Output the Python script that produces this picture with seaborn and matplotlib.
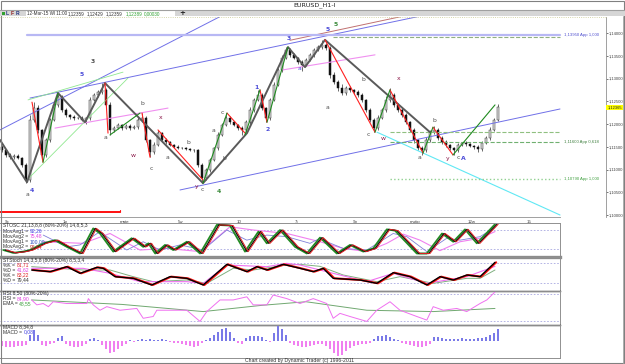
import matplotlib
matplotlib.use("Agg")
import matplotlib.pyplot as plt
import matplotlib.transforms as mtransforms
import numpy as np
import pandas as pd
import seaborn as sns

sns.set_style("white")
plt.rcParams['font.family'] = ['DejaVu Sans']
plt.rcParams['axes.linewidth'] = 0.6
NARROW = ['Liberation Sans Narrow', 'Liberation Sans', 'DejaVu Sans']

# ---------------- data ----------------
title = "EURUSD_H1-I"
first_open = 1.1150
closes = [
    1.1143, 1.1132, 1.1127, 1.1130, 1.1125, 1.1110, 1.1077, 1.1209, 1.1235, 1.1187,
    1.1132, 1.1165, 1.1209, 1.1242, 1.1259, 1.1231, 1.1220, 1.1215, 1.1213, 1.1213,
    1.1209, 1.1213, 1.1253, 1.1264, 1.1270, 1.1275, 1.1242, 1.1187, 1.1191, 1.1198,
    1.1191, 1.1196, 1.1191, 1.1193, 1.1209, 1.1213, 1.1165, 1.1139, 1.1154, 1.1180,
    1.1165, 1.1160, 1.1154, 1.1150, 1.1147, 1.1147, 1.1145, 1.1143, 1.1143, 1.1110,
    1.1081, 1.1099, 1.1121, 1.1147, 1.1176, 1.1198, 1.1213, 1.1204, 1.1198, 1.1191,
    1.1187, 1.1204, 1.1231, 1.1253, 1.1264, 1.1235, 1.1213, 1.1253, 1.1286, 1.1319,
    1.1345, 1.1363, 1.1352, 1.1345, 1.1336, 1.1330, 1.1341, 1.1352, 1.1363, 1.1369,
    1.1374, 1.1367, 1.1308, 1.1292, 1.1279, 1.1268, 1.1279, 1.1275, 1.1270, 1.1264,
    1.1253, 1.1231, 1.1209, 1.1191, 1.1213, 1.1231, 1.1253, 1.1264, 1.1242, 1.1231,
    1.1220, 1.1204, 1.1187, 1.1165, 1.1147, 1.1143, 1.1165, 1.1182, 1.1187, 1.1169,
    1.1160, 1.1154, 1.1147, 1.1143, 1.1154, 1.1158, 1.1156, 1.1152, 1.1150, 1.1145,
    1.1158, 1.1169, 1.1187, 1.1209, 1.1237]
wick_up_pips = [
    4, 3, 5, 3, 4, 3, 5, 10, 13, 6,   3, 5, 4, 6, 9, 4, 5, 3, 4, 3,
    4, 3, 6, 5, 4, 15, 5, 6, 4, 5,   3, 4, 3, 5, 6, 11, 4, 3, 6, 7,
    3, 4, 3, 2, 3, 2, 3, 2, 3, 3,    4, 5, 4, 3, 6, 5, 11, 4, 3, 3,
    4, 5, 6, 5, 11, 4, 3, 5, 6, 5,   6, 6, 4, 3, 3, 4, 3, 4, 3, 5,
    11, 5, 4, 6, 5, 8, 5, 4, 3, 5,   4, 3, 4, 5, 6, 5, 8, 16, 5, 4,
    4, 5, 3, 4, 3, 4, 6, 5, 9, 4,    5, 4, 3, 3, 5, 3, 4, 3, 2, 4,
    4, 5, 6, 5, 7]
wick_dn_pips = [
    4, 5, 3, 4, 3, 5, 7, 4, 5, 6,    9, 5, 4, 3, 4, 5, 4, 3, 4, 3,
    3, 9, 4, 3, 4, 4, 5, 11, 4, 3,   4, 3, 4, 3, 3, 4, 5, 11, 4, 3,
    4, 3, 3, 3, 3, 2, 3, 3, 4, 5,    11, 5, 4, 3, 4, 3, 3, 4, 3, 4,
    11, 4, 3, 4, 3, 5, 9, 4, 3, 3,   4, 3, 4, 3, 4, 13, 3, 3, 4, 3,
    4, 5, 6, 5, 6, 4, 5, 4, 4, 5,    4, 5, 4, 9, 4, 3, 4, 5, 4, 4,
    5, 4, 5, 6, 5, 11, 4, 5, 4, 4,   5, 4, 5, 11, 4, 3, 4, 3, 4, 7,
    4, 3, 4, 3, 3]
last_price = 1.12365
last_price_label = "1,12365"
price_ticks = [1.100, 1.105, 1.110, 1.115, 1.120, 1.125, 1.130, 1.135, 1.140]
price_tick_labels = ["1,10000", "1,10500", "1,11000", "1,11500", "1,12000",
                     "1,12500", "1,13000", "1,13500", "1,14000"]
date_pos = [0.75, 15.25, 29.5, 44, 58.75, 73.25, 87.75, 102, 116.5, 131.25]
date_labels = ["9x", "1p", "mate", "5w", "10", "7t", "9p", "mutip", "12w", "15"]

# zigzag (gray) pivots
zz_x = [-0.5, 6.25, 14, 20.75, 25.75, 50.25, 61.25, 71.5, 75.75, 80.75, 107]
zz_p = [1.1165, 1.1072, 1.1268, 1.1204, 1.1290, 1.1070, 1.1180, 1.1369, 1.1325, 1.1385, 1.1182]
# red (down) wave segments
red_x0 = [7.5, 25.75, 35, 39, 56.25, 64.5, 80.75, 97, 107.75]
red_p0 = [1.1248, 1.1290, 1.1224, 1.1187, 1.1224, 1.1275, 1.1385, 1.1275, 1.1193]
red_x1 = [10.25, 26.5, 37, 50.25, 60.75, 66.25, 93.25, 105.25, 112.75]
red_p1 = [1.1116, 1.1180, 1.1127, 1.1077, 1.1180, 1.1204, 1.1182, 1.1136, 1.1132]
# green (up) wave segments
grn_x0 = [10.25, 27, 50.25, 60.75, 66.25, 93.25, 105.25, 112.75]
grn_p0 = [1.1116, 1.1176, 1.1070, 1.1176, 1.1204, 1.1182, 1.1136, 1.1132]
grn_x1 = [14, 34.5, 56.25, 64.5, 71.5, 97, 107.75, 123.25]
grn_p1 = [1.1268, 1.1224, 1.1224, 1.1275, 1.1369, 1.1275, 1.1193, 1.1242]
# trend lines: (x0, p0, x1, p1)
blue_lines = [(7, 1.1257, 104.5, 1.1437), (44.5, 1.1055, 139.5, 1.1233),
              (-0.5, 1.1187, 56.25, 1.1444)]
brown_lines = [(72, 1.1384, 100.25, 1.1437)]
cyan_lines = [(93.75, 1.1182, 139.5, 1.1000)]
pink_lines = [(13.25, 1.1191, 41.5, 1.1235), (70.25, 1.1319, 93.25, 1.1352)]
lime_lines = [(6.5, 1.1253, 30.25, 1.1314), (6.25, 1.1077, 31.5, 1.1301)]
# horizontal target lines
hl_price = [1.1396, 1.1391, 1.1182, 1.1160, 1.1079]
hl_start = [6.25, 82.75, 97, 97, 97]
hl_color = ['#b8b8f4', '#90b080', '#90c080', '#70b070', '#90d090']
hl_style = ['-', '--', '--', '--', ':']
hl_width = [1.6, 0.8, 0.8, 0.8, 1.0]
hl_label = ["1,13950 App 1,000", "", "", "1,11600 App 0,618", "1,10790 App 1,000"]
hl_label_color = ['#5050d0', '', '', '#408040', '#40a040']

# wave labels
wave_txt = ['3', '5', 'a', '4', 'b', 'a', 'x', 'w', 'c', 'b', 'a', 'y', 'c', '4', 'c', 'a', 'b',
            '1', '2', '3', 'a', '5', '5', 'b', 'a', 'x', 'c', 'w', 'b', 'a', 'y', 'c', 'A']
wave_x = [22.75, 20, 6.25, 7.5, 35, 25.75, 39.75, 32.75, 37.25, 46.5, 41.5, 48.75, 50, 54.25, 55,
          53, 55.5, 63.5, 66.5, 71.75, 74.25, 81.5, 83.5, 90.25, 81.25, 99.25, 91.5, 95.25, 108,
          104.25, 111.5, 114, 115.25]
wave_p = [1.1338, 1.1308, 1.1046, 1.1053, 1.1246, 1.1171, 1.1215, 1.1130, 1.1103, 1.1160, 1.1127,
          1.1062, 1.1057, 1.1051, 1.1226, 1.1185, 1.1125, 1.1281, 1.1189, 1.1389, 1.1321, 1.1407,
          1.1418, 1.1297, 1.1237, 1.1299, 1.1178, 1.1169, 1.1207, 1.1127, 1.1125, 1.1127, 1.1125]
wave_col = ['k', 'b', 'k', 'b', 'k', 'k', 'm', 'm', 'k', 'k', 'k', 'm', 'k', 'g', 'k', 'k', 'k',
            'b', 'b', 'b', 'b', 'b', 'g', 'k', 'k', 'm', 'k', 'm', 'k', 'k', 'm', 'k', 'b']

# STOSC panel
stosc_x = [0.3, 2.8, 5.3, 7, 10.3, 13.25, 16.2, 19.5, 22.8, 24.5, 27.8, 32.4, 35.3, 36.6, 38.3,
           40.75, 42.8, 46.2, 49.5, 53.7, 57, 60.75, 64.1, 66.2, 69.5, 73.25, 76.2, 79.5, 83.7,
           87, 90.3, 92.8, 96.2, 98.25, 103.7, 106.2, 110, 112.8, 115.75, 118.7, 123.25]
stosc_fast = [17, 8, 12, 17, 38, 48, 27, 6, 85, 69, 12, 54, 27, 38, 6, 33, 17, 43, 6, 96, 94,
              12, 75, 38, 80, 27, 6, 56, 6, 33, 12, 22, 82, 78, 6, 6, 69, 43, 82, 38, 98]
ma1_x = [10.3, 16.2, 19.5, 24.5, 26.2, 31.2, 35.3, 39.5, 44.5, 50.3, 56.2, 61.2, 66.2, 71.2, 77,
         79.5, 81.2, 85.3, 91.2, 97.8, 101.2, 106.2, 111.2, 114.5, 119.5, 123.25]
ma1_v = [64, 27, 33, 75, 59, 17, 43, 17, 33, 17, 80, 48, 64, 59, 38, 54, 43, 22, 17, 69, 59, 12,
         54, 48, 59, 88]
ma2_x = [10.3, 20.3, 27, 34.5, 41.2, 49.5, 57, 62.8, 71.2, 79.5, 85.3, 91.2, 96.2, 100.3, 104.5,
         109.5, 114.5, 119.5, 123.25]
ma2_v = [43, 38, 69, 17, 22, 12, 90, 80, 69, 43, 22, 12, 38, 67, 48, 15, 43, 54, 75]
# STStoch panel
stoch_x = [7.4, 12, 16.2, 19.5, 23.7, 25.3, 28.25, 32.8, 37.4, 42, 46.2, 50.3, 56.2, 61.2, 63.7,
           66.2, 70.3, 74.5, 77.8, 80.3, 82.8, 89.5, 93.7, 97.8, 102, 106.2, 109.5, 112.8, 116.2,
           119.5, 123.25]
stoch_k = [59, 54, 69, 49, 67, 64, 39, 34, 14, 39, 34, 14, 76, 54, 69, 59, 76, 64, 54, 64, 34,
           29, 19, 51, 39, 14, 39, 29, 44, 39, 82]
stoch_dg_x = [7.4, 20.3, 27, 32.8, 37.8, 46.2, 51.2, 57.8, 62.8, 71.2, 74.5, 79.5, 85.3, 93.7,
              99.5, 107.8, 116.2, 119.5, 123.25]
stoch_dg = [69, 59, 59, 39, 24, 29, 19, 64, 59, 74, 76, 70, 44, 24, 39, 19, 34, 34, 59]
stoch_dp_x = [7.4, 20.3, 27, 34.5, 46.2, 50.3, 56.2, 66.2, 71.2, 74.5, 82.8, 91.2, 97.8, 106.2,
              116.2, 123.25]
stoch_dp = [64, 64, 49, 24, 24, 19, 74, 69, 79, 74, 49, 24, 49, 19, 39, 70]
# RSI panel
rsi_x = [7.4, 8.7, 10.3, 11.6, 12.8, 16.2, 21.2, 21.6, 22.8, 24.5, 26.2, 29.5, 33.7, 35.3, 37.8,
         38.7, 41.2, 46.2, 49.5, 51.2, 54.5, 57.8, 61.2, 62.8, 66.2, 67.8, 71.2, 74.5, 77.8, 81.2,
         82.8, 84.5, 87, 91.2, 93.7, 97, 99.5, 103.7, 106.2, 107.8, 110.3, 113.7, 116.2, 119.5,
         121.2, 123.25]
rsi_v = [67, 56, 59, 52, 63, 59, 59, 70, 56, 44, 52, 44, 48, 26, 30, 44, 44, 44, 19, 41, 67, 67,
         74, 56, 56, 78, 70, 59, 70, 59, 26, 37, 30, 19, 44, 63, 44, 30, 22, 52, 44, 48, 41, 59,
         67, 85]
ema_x = [7.4, 30, 50.3, 65, 76, 91.2, 107.8, 123.25]
ema_v = [67, 57, 41, 55, 63, 44, 41, 48]
# MACD histogram (one value per bar)
macd = [-5, -6, -6, -6, -5, -5, -4, 6, 11, 6, -4, -5, -3, -2, 3, 5, -3, -5, -6, -6, -5, -3,
        2, 3, 1, -4, -8, -12, -11, -8, -5, -3, 1, -1, 1, 2, 1, 2, 1, 1, 2, 1, -1, -2,
        -2, -3, -4, -5, -6, -5, -2, 1, 3, 6, 9, 12, 13, 9, 3, -2, -3, 3, 5, 5, 5, 4, 1, -1,
        8, 16, 12, 6, -2, -4, -5, -6, -6, -5, -4, -3,
        -3, -5, -8, -12, -15, -14, -10, -7, -5, -4, -3, -3, -2, 2, 5, 5, 6, 4, 2, 1,
        -2, -3, -4, -5, -6, -6, -5, -3, 4, 4, 3, 2, 2, 2, 2, 3, 2, 2, 2, 3, 3, 4, 6, 8, 12]

# ---------------- figure ----------------
W, H = 625, 364
fig = plt.figure(figsize=(W / 100, H / 100), dpi=100)


def rect(x0, y0, x1, y1):
    return [x0 / W, 1 - y1 / H, (x1 - x0) / W, (y1 - y0) / H]


bg = fig.add_axes([0, 0, 1, 1], zorder=0)
bg.set_xlim(0, W)
bg.set_ylim(H, 0)
bg.axis('off')
# window chrome
bg.add_patch(plt.Rectangle((0.5, 0.5), W - 1.5, H - 1.5, fill=False, ec='#808080', lw=0.8))
bg.text(315, 5, title, fontsize=4.6, ha='center', va='center', color='#202020')
bg.plot([0, W], [9.5, 9.5], color='#a0a0a0', lw=0.8)
bg.add_patch(plt.Rectangle((0, 10), W, 6.2, color='#d6d6d6', lw=0))
bg.add_patch(plt.Rectangle((1.5, 11.5), 3, 3, color='#30a030', lw=0))
for tx, t, c in [(7, 'L', '#203080'), (12, 'F', '#902020'), (17, 'R', '#203080')]:
    bg.text(tx, 13.2, t, fontsize=3.6, ha='center', va='center', color=c, fontweight='bold',
            family=NARROW)
bg.add_patch(plt.Rectangle((26, 11), 149, 4.6, color='white', lw=0))
for tx, t, c in [(27, '12-Mar-15 Wl 11:00', '#303030'), (68, '1,12359', '#303030'),
                 (87, '1,12429', '#303030'), (106, '1,12359', '#303030'),
                 (126, '1,12389', '#30a030'), (144, '0,00030', '#30a030')]:
    bg.text(tx, 13.3, t, fontsize=3.3, ha='left', va='center', color=c, family=NARROW)
bg.text(182, 13.3, '+', fontsize=5, ha='center', va='center', color='#202020', fontweight='bold')
bg.plot([0, 606], [16.6, 16.6], color='#c8c890', lw=0.6, ls=':')
bg.plot([622.5, 622.5], [16, H], color='#a0a0a0', lw=0.6)
bg.text(300, 360.8, "Chart created by Dynamic Trader (c) 1996-2011", fontsize=3.7,
        ha='center', va='center', color='#303030', family=NARROW)

# ---------------- main price chart ----------------
ax = fig.add_axes(rect(0, 17, 606, 217), zorder=1)
ax.set_facecolor('none')
n = len(closes)
bars = pd.DataFrame({'i': np.arange(n), 'close': closes})
bars['open'] = [first_open] + closes[:-1]
bars['high'] = np.maximum(bars.open, bars.close) + np.array(wick_up_pips) * 1e-4
bars['low'] = np.minimum(bars.open, bars.close) - np.array(wick_dn_pips) * 1e-4
up = bars.close >= bars.open
ax.vlines(bars.i, bars.low, bars.high, color='#303030', lw=0.5, zorder=2)
ax.bar(bars.i[up], (bars.close - bars.open)[up].clip(lower=0.00007), bottom=bars.open[up],
       width=0.65, color='#dcdcdc', edgecolor='#303030', lw=0.35, zorder=3)
ax.bar(bars.i[~up], (bars.open - bars.close)[~up].clip(lower=0.00007), bottom=bars.close[~up],
       width=0.65, color='#111111', edgecolor='#111111', lw=0.35, zorder=3)

x_end = 139.5
for (x0, p0, x1, p1) in blue_lines:
    ax.plot([x0, x1], [p0, p1], color='#7070e8', lw=0.7, zorder=4)
for (x0, p0, x1, p1) in brown_lines:
    ax.plot([x0, x1], [p0, p1], color='#c07070', lw=0.7, zorder=4)
for (x0, p0, x1, p1) in cyan_lines:
    ax.plot([x0, x1], [p0, p1], color='#60e8f4', lw=0.8, zorder=4)
for (x0, p0, x1, p1) in pink_lines:
    ax.plot([x0, x1], [p0, p1], color='#f090f0', lw=0.8, zorder=4)
for (x0, p0, x1, p1) in lime_lines:
    ax.plot([x0, x1], [p0, p1], color='#90e890', lw=0.6, zorder=4)
for p, xs, c, ls, lw, lab, lc in zip(hl_price, hl_start, hl_color, hl_style, hl_width,
                                     hl_label, hl_label_color):
    ax.plot([xs, x_end], [p, p], color=c, ls=ls, lw=lw, zorder=4)
    if lab:
        ax.text(x_end + 1, p, lab, fontsize=3.1, color=lc, ha='left', va='center', zorder=5,
                family=NARROW)

sns.lineplot(x=zz_x, y=zz_p, ax=ax, color='#5a5a5a', linewidth=1.4, sort=False,
             estimator=None, zorder=5)
for a, b, c, d in zip(red_x0, red_p0, red_x1, red_p1):
    ax.plot([a, c], [b, d], color='#ff2020', lw=0.8, zorder=6)
for a, b, c, d in zip(grn_x0, grn_p0, grn_x1, grn_p1):
    ax.plot([a, c], [b, d], color='#1f8a1f', lw=0.8, zorder=6)

cmap = {'k': '#505050', 'b': '#4a4ad8', 'm': '#8b1a4a', 'g': '#3a8a3a'}
for t, x, p, c in zip(wave_txt, wave_x, wave_p, wave_col):
    ax.text(x, p, t, fontsize=4.4, color=cmap[c], ha='center', va='center', zorder=7,
            fontweight='bold' if t.isdigit() or t == 'A' else 'normal')

# period marker along the bottom of the price pane
ax.plot([-0.5, 29.5], [1.10066, 1.10066], color='#ff1010', lw=1.4, zorder=6, clip_on=False,
        solid_capstyle='butt')
ax.plot([29.5, 29.5], [1.10066, 1.1011], color='#ff1010', lw=0.8, zorder=6, clip_on=False)

ax.set_xlim(-0.5, 151)
ax.set_ylim(1.09956, 1.14352)
ax.yaxis.tick_right()
ax.set_yticks(price_ticks)
ax.set_yticklabels(price_tick_labels, family=NARROW)
ax.set_xticks(date_pos)
ax.set_xticklabels(date_labels, ha='left', family=NARROW)
ax.tick_params(axis='y', labelsize=3.0, colors='#404040', length=1.2, width=0.5, pad=0.4,
               direction='out')
ax.tick_params(axis='x', labelsize=3.2, colors='#404040', length=1.8, width=0.5, pad=0.2,
               direction='out')
for s in ['left', 'top']:
    ax.spines[s].set_visible(False)
ax.spines['right'].set_color('#909090')
ax.spines['bottom'].set_color('#909090')
ax.spines['bottom'].set_bounds(-0.5, x_end)
ax.set_xlabel('')
ax.set_ylabel('')
ax.text(1.002, last_price, last_price_label, transform=mtransforms.blended_transform_factory(
    ax.transAxes, ax.transData), fontsize=2.9, ha='left', va='center', color='#202020',
    family=NARROW, bbox=dict(boxstyle='square,pad=0.2', fc='#ffff00', ec='none'), zorder=8,
    clip_on=False)

# ---------------- indicator panels ----------------
panels = [(223, 257, (-5, 102)), (257, 291, (-4, 98)), (291, 325, (11, 87)), (325, 358, (-17, 16))]
pax = []
for (y0, y1, yl) in panels:
    a = fig.add_axes(rect(0, y0, 560, y1), zorder=1)
    a.set_facecolor('none')
    a.set_xlim(-0.5, x_end)
    a.set_ylim(*yl)
    a.set_xticks([])
    a.set_yticks([])
    for s in a.spines.values():
        s.set_color('#909090')
        s.set_linewidth(0.7)
    a.spines['left'].set_visible(False)
    pax.append(a)
pax[0].spines['bottom'].set_linewidth(2.4)
pax[0].spines['bottom'].set_color('#8c8c8c')
pax[1].spines['bottom'].set_color('#202020')
pax[1].spines['bottom'].set_linewidth(1.0)
pax[2].spines['bottom'].set_color('#202020')
pax[2].spines['bottom'].set_linewidth(1.0)
for a in pax[:3]:
    for lvl in (80, 20):
        a.axhline(lvl, color='#a8a8e0', lw=0.6, ls=(0, (2, 2)), zorder=1)

# STOSC
a = pax[0]
sns.lineplot(x=ma2_x, y=ma2_v, ax=a, color='#f080f0', linewidth=0.8, sort=False, estimator=None)
sns.lineplot(x=ma1_x, y=ma1_v, ax=a, color='#8080d8', linewidth=0.6, sort=False, estimator=None)
sns.lineplot(x=stosc_x, y=stosc_fast, ax=a, color='#228b22', linewidth=1.3, sort=False,
             estimator=None)
a.plot(np.array(stosc_x) + 0.5, stosc_fast, color='#101010', lw=0.9)
a.plot(np.array(stosc_x) + 0.8, stosc_fast, color='#e02020', lw=0.7)
# STStoch
a = pax[1]
sns.lineplot(x=stoch_dg_x, y=stoch_dg, ax=a, color='#80b080', linewidth=0.7, sort=False,
             estimator=None)
sns.lineplot(x=stoch_dp_x, y=stoch_dp, ax=a, color='#f070f0', linewidth=0.8, sort=False,
             estimator=None)
a.plot(np.array(stoch_x) + 0.3, stoch_k, color='#ff1010', lw=1.5)
sns.lineplot(x=stoch_x, y=stoch_k, ax=a, color='#000000', linewidth=1.0, sort=False,
             estimator=None)
# RSI
a = pax[2]
sns.lineplot(x=ema_x, y=ema_v, ax=a, color='#70a870', linewidth=0.7, sort=False, estimator=None)
sns.lineplot(x=rsi_x, y=rsi_v, ax=a, color='#f070f0', linewidth=0.7, sort=False, estimator=None)
# MACD
a = pax[3]
mv = np.array(macd)
mx = np.arange(len(mv))
a.bar(mx[mv >= 0], mv[mv >= 0], width=0.35, color='#7a7ae8', lw=0)
a.bar(mx[mv < 0], mv[mv < 0], width=0.35, color='#f080f0', lw=0)
for a in pax:
    a.set_xlabel('')
    a.set_ylabel('')

# panel captions (pixel placement on background)
cap_dark = '#303030'
captions = [
    (225.8, "STOSC 21,13,8,8 (80%-20%) 14,8,5,3", None, None),
    (231.0, "MovAvg1 =", "92,26", '#4040e0'),
    (236.2, "MovAvg2 =", "75,48", '#e040e0'),
    (241.4, "MovAvg1 =", "100,00", '#3050c0'),
    (246.6, "MovAvg2 =", "96,64", '#c02020'),
    (260.2, "STStoch 14,3,5,8 (80%-20%) 8,5,3,4", None, None),
    (265.2, "%K =", "81,71", '#e02020'),
    (270.2, "%D =", "41,62", '#e040e0'),
    (275.2, "%K =", "83,22", '#e02020'),
    (280.2, "%D =", "79,44", '#303030'),
    (293.8, "RSI 8,50 (80%-20%)", None, None),
    (298.8, "RSI =", "84,90", '#e040e0'),
    (303.8, "EMA =", "48,55", '#40a040'),
    (327.2, "MACD 8,34,8", None, None),
    (332.2, "MACD =", "0,08", '#4040e0'),
]
for y, lab, val, col in captions:
    t = bg.text(3, y, lab, fontsize=3.6, ha='left', va='center', color=cap_dark, zorder=3,
                family=NARROW)
    if val:
        bg.annotate(val, xy=(1, 0.5), xycoords=t, xytext=(1.0, 0), textcoords='offset points',
                    fontsize=3.6, ha='left', va='center', color=col, zorder=3, family=NARROW)
bg.set_zorder(2)
bg.patch.set_visible(False)

fig.savefig('out.png', dpi=100)
